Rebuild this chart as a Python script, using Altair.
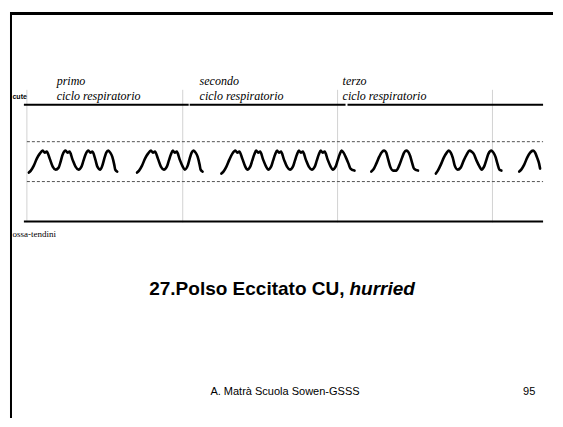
import altair as alt
import pandas as pd

# ---- pulse tracing, one list per group of beats ----
g1_x = [27, 29, 32, 35, 38, 41, 43, 45, 48, 51, 54, 57, 59, 61, 64, 66, 68, 71, 74, 77, 80, 82, 84, 87, 89, 91, 94, 96, 99, 101, 103, 105, 107, 109, 111, 113, 114, 116]
g1_y = [173, 171, 166, 159, 154, 151, 153, 152, 159, 167, 170, 168, 162, 155, 151, 153, 152, 160, 167, 170, 167, 161, 155, 151, 153, 152, 160, 167, 170, 166, 159, 153, 151, 153, 157, 165, 170, 172]

g2_x = [136, 138, 141, 144, 147, 150, 152, 154, 157, 160, 163, 166, 168, 170, 172, 174, 176, 179, 182, 184, 187, 189, 191, 193, 195, 197, 199, 200, 202]
g2_y = [173, 171, 166, 159, 154, 151, 153, 152, 159, 167, 170, 167, 161, 155, 151, 153, 152, 160, 167, 170, 166, 159, 153, 151, 153, 157, 165, 170, 172]

g3_x = [221, 223, 226, 229, 232, 235, 237, 239, 242, 245, 247, 250, 252, 254, 256, 258, 260, 263, 266, 268, 271, 273, 275, 277, 279, 281, 284, 287, 290, 293, 295, 297, 299, 301, 303, 306, 309, 312, 315, 317, 319, 321, 323, 325, 328, 331, 333, 336, 338, 340, 342, 344, 346, 349, 351, 355]
g3_y = [174, 172, 167, 160, 154, 151, 153, 152, 159, 167, 170, 167, 161, 155, 151, 153, 152, 160, 167, 170, 167, 161, 155, 151, 153, 152, 160, 167, 170, 167, 161, 155, 151, 153, 152, 160, 167, 170, 167, 161, 155, 151, 153, 152, 160, 167, 170, 167, 161, 155, 151, 153, 157, 164, 169, 171]

g4_x = [372, 374, 377, 380, 383, 385, 387, 389, 391, 394, 397, 400, 403, 405, 407, 409, 411, 413, 415, 419]
g4_y = [172, 170, 164, 157, 152, 151, 153, 160, 167, 171, 171, 166, 158, 153, 151, 152, 156, 163, 169, 171]

g5_x = [437, 439, 442, 445, 448, 450, 452, 454, 456, 459, 462, 465, 468, 471, 473, 475, 478, 481, 483, 486, 488, 490, 493, 495, 497, 499, 501, 503]
g5_y = [174, 171, 165, 158, 153, 151, 153, 158, 166, 170, 168, 161, 155, 151, 152, 154, 161, 167, 170, 166, 160, 154, 151, 153, 157, 164, 170, 171]

g6_x = [521, 523, 526, 529, 532, 535, 537, 539, 541, 542]
g6_y = [172, 170, 165, 158, 153, 151, 153, 158, 164, 169]

groups = [(g1_x, g1_y), (g2_x, g2_y), (g3_x, g3_y), (g4_x, g4_y), (g5_x, g5_y), (g6_x, g6_y)]

cycle_top = ["primo", "secondo", "terzo"]
cycle_sub = "ciclo respiratorio"
top_label = "cute"
bottom_label = "ossa-tendini"
title_main = "27.Polso Eccitato CU,"
title_ital = "hurried"
footer = "A. Matrà Scuola Sowen-GSSS"
page_no = "95"

rows = []
for gi, (xs, ys) in enumerate(groups):
    for i, (a, b) in enumerate(zip(xs, ys)):
        rows.append({"g": gi, "i": i, "x": a, "y": b})
wave = pd.DataFrame(rows)

XS = alt.Scale(domain=[8, 555], nice=False, zero=False)
YS = alt.Scale(domain=[8, 419], reverse=True, nice=False, zero=False)


def seg(x1, x2, y1, y2, color="black", width=1.0, dash=None):
    m = {"color": color, "strokeWidth": width}
    if dash:
        m["strokeDash"] = dash
    return alt.Chart(alt.Data(values=[{"x": x1, "x2": x2, "y": y1, "y2": y2}])).mark_rule(**m).encode(
        x=alt.X("x:Q", scale=XS, axis=None), x2="x2:Q",
        y=alt.Y("y:Q", scale=YS, axis=None), y2="y2:Q")


def txt(x, y, s, size, font="Liberation Sans", align="left", baseline="alphabetic",
        weight="normal", style="normal", color="black"):
    return alt.Chart(alt.Data(values=[{"x": x, "y": y, "t": s}])).mark_text(
        align=align, baseline=baseline, fontSize=size, font=font,
        fontWeight=weight, fontStyle=style, color=color).encode(
        x=alt.X("x:Q", scale=XS, axis=None), y=alt.Y("y:Q", scale=YS, axis=None), text="t:N")


layers = []
# slide frame
layers.append(seg(8, 555, 13.5, 13.5, width=3))
layers.append(seg(9, 9, 12, 419, width=2))
# grey cycle separators
for vx in [25, 182, 338, 494]:
    layers.append(seg(vx, vx, 90, 223, color="#d2d2d2", width=1))
# cute line (three strokes) and ossa-tendini line
for a, b in [(22, 188), (189, 346), (348, 545)]:
    layers.append(seg(a, b, 105, 105, width=2))
layers.append(seg(22, 545, 222, 222, width=2))
# dashed guides
layers.append(seg(25, 545, 142, 142, color="#555555", width=1, dash=[3, 2]))
layers.append(seg(25, 545, 182, 182, color="#555555", width=1, dash=[3, 2]))

# pulse trace
layers.append(alt.Chart(wave).mark_line(color="black", strokeWidth=2.6, interpolate="monotone",
                                        strokeCap="round", strokeJoin="round").encode(
    x=alt.X("x:Q", scale=XS, axis=None), y=alt.Y("y:Q", scale=YS, axis=None),
    detail="g:N", order="i:Q"))

# cycle labels
for lx, lab in zip([55, 199, 343], cycle_top):
    layers.append(txt(lx, 85, lab, 12, font="Liberation Serif", style="italic"))
    layers.append(txt(lx, 100, cycle_sub, 12, font="Liberation Serif", style="italic"))

layers.append(txt(10.5, 97, top_label, 7, weight="bold", baseline="middle"))
layers.append(txt(10.5, 235, bottom_label, 9, font="Liberation Serif", baseline="middle"))

# title
layers.append(txt(345, 290, title_main, 19, weight="bold", align="right", baseline="middle"))
layers.append(txt(350, 290, title_ital, 19, weight="bold", style="italic", baseline="middle"))

# footer
layers.append(txt(285, 393, footer, 11, align="center", baseline="middle"))
layers.append(txt(531, 393, page_no, 11, align="center", baseline="middle"))

chart = alt.layer(*layers).properties(
    width=547, height=411,
    autosize=alt.AutoSizeParams(type="fit", contains="padding"),
    padding=0,
).configure_view(stroke=None)

chart.save("out.html", embed_options={"renderer": "svg", "actions": False})
